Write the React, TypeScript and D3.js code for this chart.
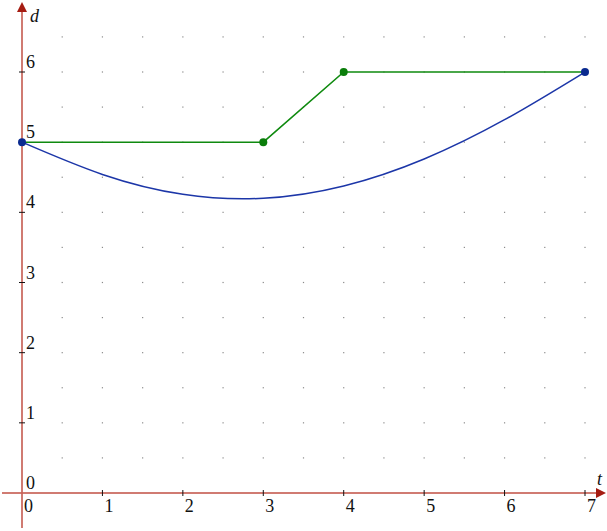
import React from "react";
import * as d3 from "d3";

const xTicks = [0, 1, 2, 3, 4, 5, 6, 7];
const yTicks = [0, 1, 2, 3, 4, 5, 6];
const greenT = [0, 3, 4, 7];
const greenD = [5, 5, 6, 6];
const greenDotT = [3, 4];
const greenDotD = [5, 6];
const blueT = [0, 1, 2, 3, 4, 5, 6, 7];
const blueD = [5, 4.54, 4.257, 4.2, 4.375, 4.76, 5.32, 6];
const blueDotT = [0, 7];
const blueDotD = [5, 6];
const gridT = [0.5, 1, 1.5, 2, 2.5, 3, 3.5, 4, 4.5, 5, 5.5, 6, 6.5, 7];
const gridD = [0.5, 1, 1.5, 2, 2.5, 3, 3.5, 4, 4.5, 5, 5.5, 6, 6.5];

export default function App() {
  const W = 607, H = 531;
  const x = d3.scaleLinear().domain([0, 7]).range([22, 585]);
  const y = d3.scaleLinear().domain([0, 6]).range([493, 72]);
  const axisColor = "#c8645a";
  const arrowColor = "#a51c12";
  const font = "'Liberation Serif', 'Times New Roman', serif";

  const greenLine = d3.line<number>().x((_, i) => x(greenT[i])).y((_, i) => y(greenD[i]));
  const blueLine = d3
    .line<number>()
    .x((_, i) => x(blueT[i]))
    .y((_, i) => y(blueD[i]))
    .curve(d3.curveNatural);

  const x0 = x(0), y0 = y(0);

  return (
    <svg width={W} height={H} style={{ position: "absolute", left: 0, top: 0, background: "#fff" }}>
      {gridT.map((t) =>
        gridD.map((d) => (
          <rect key={`${t}-${d}`} x={x(t) - 0.6} y={y(d) - 0.6} width={1.2} height={1.2} fill="#8a8a8a" />
        ))
      )}
      <line x1={2} x2={598} y1={y0} y2={y0} stroke={axisColor} strokeWidth={2} opacity={0.85} />
      <line x1={x0} x2={x0} y1={528} y2={10} stroke={axisColor} strokeWidth={2} opacity={0.85} />
      <path d={`M${606},${y0} L${596},${y0 - 5} L${596},${y0 + 5} Z`} fill={arrowColor} />
      <path d={`M${x0},${2} L${x0 - 5},${12} L${x0 + 5},${12} Z`} fill={arrowColor} />
      {xTicks.filter((t) => t > 0).map((t) => (
        <line key={`xt${t}`} x1={x(t)} x2={x(t)} y1={y0 - 3} y2={y0 + 3} stroke="#111" strokeWidth={1} />
      ))}
      {yTicks.filter((d) => d > 0).map((d) => (
        <line key={`yt${d}`} x1={x0 - 3} x2={x0 + 3} y1={y(d)} y2={y(d)} stroke="#111" strokeWidth={1} />
      ))}
      {xTicks.map((t) => (
        <text key={`xl${t}`} x={x(t) + 2} y={y0 + 19} fontSize={18} fontFamily={font} fill="#111">
          {t}
        </text>
      ))}
      {yTicks.map((d) => (
        <text key={`yl${d}`} x={x0 + 4} y={y(d) - 4} fontSize={18} fontFamily={font} fill="#111">
          {d}
        </text>
      ))}
      <text x={x0 + 8} y={22} fontSize={18} fontStyle="italic" fontFamily={font} fill="#111">d</text>
      <text x={597} y={485} fontSize={18} fontStyle="italic" fontFamily={font} fill="#111">t</text>
      <path d={greenLine(greenT) || ""} fill="none" stroke="#0f8a0f" strokeWidth={1.5} />
      {greenDotT.map((t, i) => (
        <circle key={`gd${i}`} cx={x(t)} cy={y(greenDotD[i])} r={4} fill="#0a7d0a" />
      ))}
      <path d={blueLine(blueT) || ""} fill="none" stroke="#1c36a8" strokeWidth={1.5} />
      {blueDotT.map((t, i) => (
        <circle key={`bd${i}`} cx={x(t)} cy={y(blueDotD[i])} r={4} fill="#0a2a8f" />
      ))}
    </svg>
  );
}
